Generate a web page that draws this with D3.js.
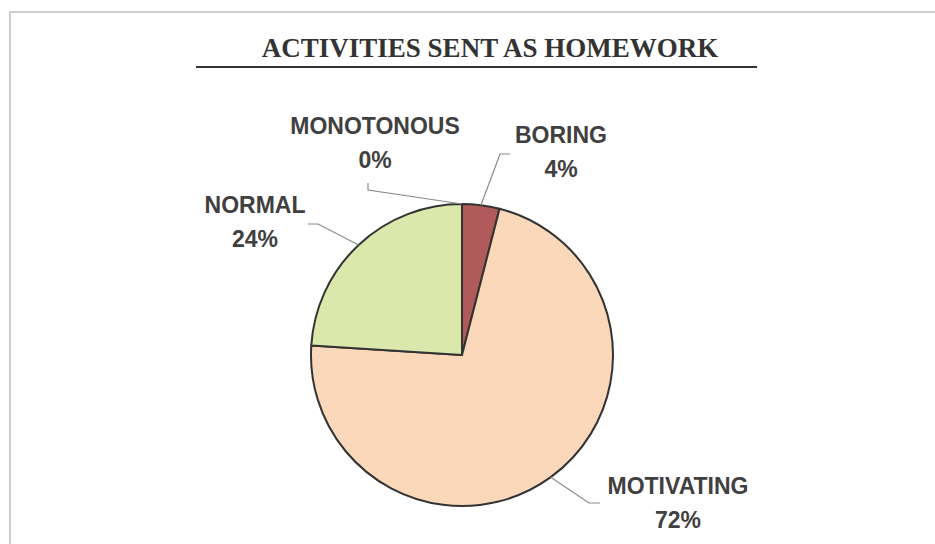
<!DOCTYPE html>
<html>
<head>
<meta charset="utf-8">
<script src="https://cdn.jsdelivr.net/npm/d3@7"></script>
<style>
  html, body { margin: 0; padding: 0; background: #fff; }
  svg { display: block; }
</style>
</head>
<body>
<svg id="chart" width="935" height="544"></svg>
<script>
// Survey answers, in drawing order clockwise from twelve o'clock
const categories = ["BORING", "MOTIVATING", "NORMAL", "MONOTONOUS"];
const values = [4, 72, 24, 0];
const colors = ["#b05a5b", "#fad8b9", "#dbe8ac", "#c9d9e8"];

const chartTitle = "ACTIVITIES SENT AS HOMEWORK";

// Label placement: text centre, first baseline, and the leader line elbow + end
const labelLayout = {
  "BORING":     { x: 561, y: 143, elbow: [500, 154], end: [510, 154] },
  "MOTIVATING": { x: 678, y: 494, elbow: [589, 503], end: [600, 503] },
  "NORMAL":     { x: 255, y: 213, elbow: [318, 224], end: [308, 224] },
  "MONOTONOUS": { x: 375, y: 134, elbow: [368, 190], end: [368, 183] }
};

const svg = d3.select("#chart");
const W = 935, H = 544;
const cx = 462, cy = 355, R = 151;

// Outer frame (top and left edges)
svg.append("path")
  .attr("d", `M10,${H} L10,12 L${W},12`)
  .attr("fill", "none")
  .attr("stroke", "#bdbdbd")
  .attr("stroke-width", 1.5);

// Title and its rule
svg.append("text")
  .attr("x", 490)
  .attr("y", 57)
  .attr("text-anchor", "middle")
  .attr("font-family", "'Liberation Serif', 'Times New Roman', serif")
  .attr("font-weight", "bold")
  .attr("font-size", 27)
  .attr("fill", "#333")
  .text(chartTitle);

svg.append("line")
  .attr("x1", 196).attr("x2", 757)
  .attr("y1", 67).attr("y2", 67)
  .attr("stroke", "#333")
  .attr("stroke-width", 2);

const data = categories.map((c, i) => ({ name: c, value: values[i], color: colors[i] }));

const pie = d3.pie().sort(null).value(d => d.value).startAngle(0).endAngle(2 * Math.PI);
const arcs = pie(data);

const arc = d3.arc().innerRadius(0).outerRadius(R);

const g = svg.append("g").attr("transform", `translate(${cx},${cy})`);

g.selectAll("path.slice")
  .data(arcs.filter(a => a.value > 0))
  .join("path")
  .attr("class", "slice")
  .attr("d", arc)
  .attr("fill", d => d.data.color)
  .attr("stroke", "#333")
  .attr("stroke-width", 2)
  .attr("stroke-linejoin", "round");

// Leader lines from each slice's mid-angle on the rim
arcs.forEach(a => {
  const L = labelLayout[a.data.name];
  const mid = (a.startAngle + a.endAngle) / 2;
  const px = cx + R * Math.sin(mid);
  const py = cy - R * Math.cos(mid);
  svg.append("polyline")
    .attr("points", [[px, py], L.elbow, L.end].map(p => p.join(",")).join(" "))
    .attr("fill", "none")
    .attr("stroke", "#8a8a8a")
    .attr("stroke-width", 1.2);
});

// Category and percentage labels
const total = d3.sum(values);
arcs.forEach(a => {
  const L = labelLayout[a.data.name];
  const t = svg.append("text")
    .attr("text-anchor", "middle")
    .attr("font-family", "'Liberation Sans', Arial, sans-serif")
    .attr("font-weight", "bold")
    .attr("font-size", 23)
    .attr("fill", "#404040");
  t.append("tspan").attr("x", L.x).attr("y", L.y).text(a.data.name);
  t.append("tspan").attr("x", L.x).attr("y", L.y + 34)
    .text(Math.round(a.data.value / total * 100) + "%");
});
</script>
</body>
</html>
